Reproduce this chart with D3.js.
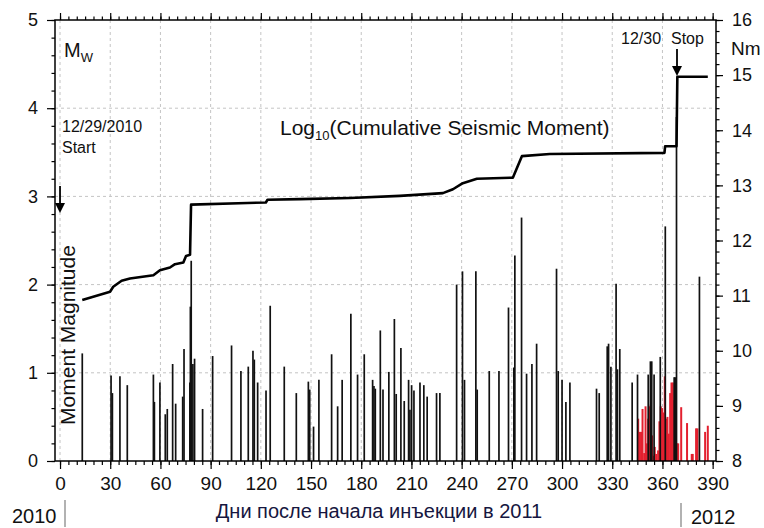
<!DOCTYPE html>
<html>
<head>
<meta charset="utf-8">
<script src="https://cdnjs.cloudflare.com/ajax/libs/d3/7.8.5/d3.min.js"></script>
<style>
body { margin: 0; background: #fff; }
text { font-family: "Liberation Sans", Arial, sans-serif; fill: #111; }
.grid line { stroke: #c4c4c4; stroke-width: 1; stroke-dasharray: 3,3; }
.axis path { display: none; }
.axis line { stroke: #000; stroke-width: 1.2; }
</style>
</head>
<body>
<div id="chart"></div>
<script>
// events: day after injection start, moment magnitude
var eventDays = [13.3, 30.5, 31.3, 35.8, 40.2, 55.8, 56.4, 59.7, 62.9, 64.1, 67.3, 69.1, 73.3, 74.1,
  77.6, 77.9, 78.4, 79.4, 80.4, 85.2, 91.2, 102.5, 108.1, 112.5, 115.3, 116.1, 118.1, 123.1, 125.6,
  134.0, 141.2, 148.4, 149.2, 151.5, 154.7, 162.3, 165.9, 168.6, 173.8, 177.8, 181.8, 186.8, 187.6,
  188.4, 191.4, 193.0, 196.5, 199.8, 200.9, 203.7, 205.7, 208.3, 209.1, 210.1, 211.5, 215.1, 217.4,
  219.4, 225.0, 227.0, 237.0, 240.5, 241.7, 248.5, 249.3, 256.5, 262.3, 268.0, 271.2, 271.8, 275.8,
  278.8, 282.0, 284.8, 296.7, 297.7, 300.0, 302.3, 304.7, 320.6, 322.2, 327.0, 327.8, 329.2, 332.3,
  333.1, 334.5, 341.9, 345.1, 351.5, 352.8, 353.6, 355.0, 358.7, 361.7, 367.0, 367.6, 368.4, 382.1];
var eventMw = [1.22, 0.97, 0.77, 0.96, 0.86, 0.98, 0.67, 0.89, 0.53, 0.59, 1.10, 0.65, 0.73, 1.27,
  0.89, 1.75, 2.27, 1.10, 1.16, 0.59, 1.19, 1.31, 1.02, 1.07, 1.25, 1.15, 0.89, 0.80, 1.76,
  1.07, 0.77, 0.90, 0.81, 0.39, 0.92, 1.21, 0.62, 0.92, 1.67, 0.98, 1.21, 0.92, 0.85,
  0.82, 1.48, 0.81, 1.01, 1.61, 0.76, 1.28, 0.68, 0.92, 0.58, 0.86, 0.80, 0.89, 0.86,
  0.73, 0.77, 0.77, 2.00, 2.15, 0.92, 2.15, 0.81, 1.02, 1.02, 1.74, 1.06, 2.33, 2.76,
  0.99, 1.10, 1.33, 2.18, 1.02, 0.92, 0.67, 0.89, 0.82, 0.77, 1.30, 1.33, 1.07, 2.01,
  1.04, 1.27, 0.89, 0.98, 0.98, 1.13, 1.13, 0.98, 1.18, 2.66, 0.95, 0.95, 3.90, 2.09];

// small events at the end of the record (red)
var smallDays = [345.5, 346.5, 347.3, 348.1, 349.1, 349.9, 350.7, 351.5, 352.3, 353.0, 353.8, 354.7,
  355.4, 356.2, 357.4, 358.2, 359.0, 359.8, 360.6, 361.4, 362.2, 363.0, 363.8, 364.6, 365.4, 366.2,
  367.0, 367.8, 368.6, 369.4, 371.2, 374.7, 377.5, 378.1, 380.1, 380.9, 385.5, 387.1];
var smallMw = [0.48, 0.33, 0.33, 0.59, 0.09, 0.62, 0.20, 0.48, 0.62, 0.64, 0.29, 0.06,
  0.16, 0.08, 0.12, 0.45, 0.62, 0.60, 0.55, 0.96, 0.48, 0.50, 0.31, 0.77, 0.89, 0.89,
  0.69, 0.16, 0.20, 0.20, 0.61, 0.43, 0.08, 0.08, 0.37, 0.37, 0.33, 0.40];

// log10 of cumulative seismic moment (right axis)
var cumDays = [13.3, 29.9, 31.8, 36.8, 41.8, 55.8, 59.7, 65.7, 68.7, 73.7, 75.3, 77.7, 78.3, 112.0,
  123.0, 124.0, 143.4, 173.2, 203.1, 228.8, 234.8, 240.7, 249.1, 270.6, 276.0, 292.7, 361.2, 361.6,
  368.4, 368.9, 387.1];
var cumLogM = [10.92, 11.07, 11.16, 11.27, 11.31, 11.37, 11.46, 11.51, 11.57, 11.60, 11.72, 11.74, 12.65, 12.68,
  12.69, 12.74, 12.75, 12.77, 12.81, 12.86, 12.93, 13.04, 13.12, 13.14, 13.53, 13.57, 13.59, 13.71,
  13.71, 14.97, 14.97];

var dayTicks = [0, 30, 60, 90, 120, 150, 180, 210, 240, 270, 300, 330, 360, 390];
var mwTicks = [0, 1, 2, 3, 4, 5];
var nmTicks = [8, 9, 10, 11, 12, 13, 14, 15, 16];

var events = eventDays.map(function(d, i) { return {day: d, mw: eventMw[i]}; });
var small = smallDays.map(function(d, i) { return {day: d, mw: smallMw[i]}; });
var cum = cumDays.map(function(d, i) { return {day: d, m: cumLogM[i]}; });

var W = 764, H = 528;
// plot box (note: "top" is reserved on window, so prefix them)
var pL = 55, pR = 716, pT = 20, pB = 461;

var x = d3.scaleLinear().domain([-3, 392]).range([pL, pR]);
var yL = d3.scaleLinear().domain([0, 5]).range([pB, pT]);
var yR = d3.scaleLinear().domain([8, 16]).range([pB, pT]);

var svg = d3.select("#chart").append("svg")
    .attr("width", W)
    .attr("height", H)
    .style("background", "#fff");

// dashed grid
var grid = svg.append("g").attr("class", "grid");
grid.selectAll("line.v")
    .data(dayTicks.slice(0, 13))
    .enter().append("line")
    .attr("x1", function(d) { return x(d); })
    .attr("x2", function(d) { return x(d); })
    .attr("y1", pT).attr("y2", pB);
grid.selectAll("line.h")
    .data([1, 2, 3, 4])
    .enter().append("line")
    .attr("x1", pL).attr("x2", pR)
    .attr("y1", function(d) { return yL(d); })
    .attr("y2", function(d) { return yL(d); });

// red bars (small events)
svg.append("g").selectAll("line")
    .data(small)
    .enter().append("line")
    .attr("x1", function(d) { return x(d.day); })
    .attr("x2", function(d) { return x(d.day); })
    .attr("y1", yL(0))
    .attr("y2", function(d) { return yL(d.mw); })
    .attr("stroke", "#e3202f")
    .attr("stroke-width", 2);

// black bars
svg.append("g").selectAll("line")
    .data(events)
    .enter().append("line")
    .attr("x1", function(d) { return x(d.day); })
    .attr("x2", function(d) { return x(d.day); })
    .attr("y1", yL(0))
    .attr("y2", function(d) { return yL(d.mw); })
    .attr("stroke", "#111")
    .attr("stroke-width", 1.7);

// cumulative moment
var line = d3.line()
    .x(function(d) { return x(d.day); })
    .y(function(d) { return yR(d.m); });
svg.append("path")
    .datum(cum)
    .attr("d", line)
    .attr("fill", "none")
    .attr("stroke", "#000")
    .attr("stroke-width", 2.6)
    .attr("stroke-linejoin", "round");

// axes: majors with labels, minors without
function addAxis(axis, tr) {
  return svg.append("g").attr("class", "axis")
      .attr("transform", tr).call(axis);
}
var minorDays = d3.range(0, 391, 5);
var minorMw = d3.range(0, 5.01, 0.2);
var minorNm = d3.range(8, 16.01, 0.2);

var xb = addAxis(d3.axisBottom(x).tickValues(dayTicks).tickSize(8).tickPadding(6), "translate(0," + pB + ")");
xb.selectAll("text").attr("y", 16).style("font-size", "19px");
addAxis(d3.axisBottom(x).tickValues(minorDays).tickSize(4).tickFormat(""), "translate(0," + pB + ")");
addAxis(d3.axisTop(x).tickValues(dayTicks).tickSize(7).tickFormat(""), "translate(0," + pT + ")");
addAxis(d3.axisTop(x).tickValues(minorDays).tickSize(3.5).tickFormat(""), "translate(0," + pT + ")");

var yl = addAxis(d3.axisLeft(yL).tickValues(mwTicks).tickSize(8).tickPadding(9).tickFormat(d3.format("d")), "translate(" + pL + ",0)");
yl.selectAll("text").style("font-size", "18px");
addAxis(d3.axisLeft(yL).tickValues(minorMw).tickSize(3.5).tickFormat(""), "translate(" + pL + ",0)");

var yr = addAxis(d3.axisRight(yR).tickValues(nmTicks).tickSize(7).tickPadding(9).tickFormat(d3.format("d")), "translate(" + pR + ",0)");
yr.selectAll("text").style("font-size", "18px");
addAxis(d3.axisRight(yR).tickValues(minorNm).tickSize(3.5).tickFormat(""), "translate(" + pR + ",0)");

// frame
svg.append("rect")
    .attr("x", pL).attr("y", pT)
    .attr("width", pR - pL).attr("height", pB - pT)
    .attr("fill", "none").attr("stroke", "#000").attr("stroke-width", 1.5);

// labels
var mw = svg.append("text").attr("x", 64).attr("y", 57).style("font-size", "20px");
mw.append("tspan").text("M");
mw.append("tspan").attr("dy", 5).style("font-size", "13px").text("W");

svg.append("text").attr("x", 731).attr("y", 55).style("font-size", "19px").text("Nm");

svg.append("text").attr("x", 62).attr("y", 132).style("font-size", "16px").text("12/29/2010");
svg.append("text").attr("x", 62).attr("y", 153).style("font-size", "16px").text("Start");
svg.append("text").attr("x", 621).attr("y", 44).style("font-size", "16px").text("12/30");
svg.append("text").attr("x", 671).attr("y", 44).style("font-size", "16px").text("Stop");

var lg = svg.append("text").attr("x", 280).attr("y", 135).style("font-size", "21px");
lg.append("tspan").text("Log");
lg.append("tspan").attr("dy", 5).style("font-size", "13px").text("10");
lg.append("tspan").attr("dy", -5).text("(Cumulative Seismic Moment)");

svg.append("text")
    .attr("transform", "translate(75,335) rotate(-90)")
    .attr("text-anchor", "middle")
    .style("font-size", "21px")
    .text("Moment Magnitude");

// arrows
function arrow(ax, y1, y2) {
  svg.append("line").attr("x1", ax).attr("x2", ax).attr("y1", y1).attr("y2", y2 - 6)
      .attr("stroke", "#000").attr("stroke-width", 1.8);
  svg.append("path")
      .attr("d", "M" + (ax - 5) + "," + (y2 - 10) + "L" + (ax + 5) + "," + (y2 - 10) + "L" + ax + "," + y2 + "Z")
      .attr("fill", "#000");
}
arrow(x(0), 186, 213);
arrow(677, 49, 76);

// year marks under the axis
svg.append("text").attr("x", 12).attr("y", 523).style("font-size", "20px").text("2010");
svg.append("line").attr("x1", 65).attr("x2", 65).attr("y1", 500).attr("y2", 527)
    .attr("stroke", "#999").attr("stroke-width", 1.5);
svg.append("text").attr("x", 691).attr("y", 524).style("font-size", "20px").text("2012");
svg.append("line").attr("x1", 681).attr("x2", 681).attr("y1", 503).attr("y2", 527)
    .attr("stroke", "#999").attr("stroke-width", 1.5);
svg.append("text").attr("x", 379).attr("y", 518).attr("text-anchor", "middle")
    .style("font-size", "20px").style("fill", "#161640")
    .text("Дни после начала инъекции в 2011");
</script>
</body>
</html>
